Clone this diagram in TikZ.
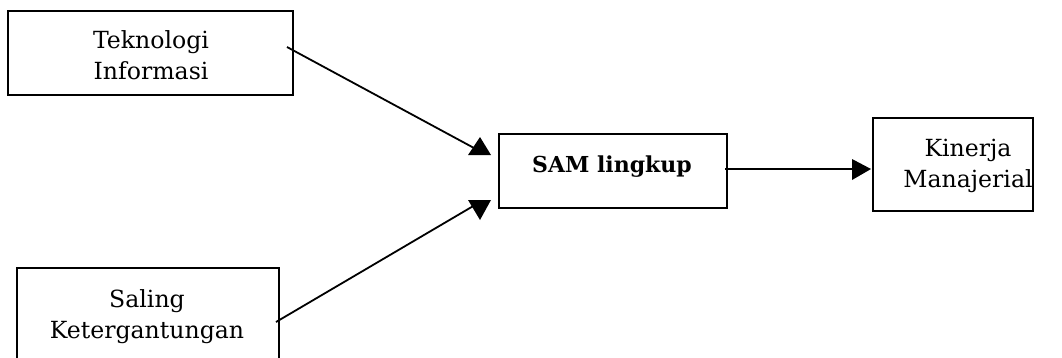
\documentclass[tikz,border=0pt]{standalone}
\usepackage{fontspec}
\setmainfont{DejaVu Serif}
\begin{document}
\begin{tikzpicture}[x=1pt,y=-1pt,
  box/.style={draw=black,line width=2pt,inner sep=0pt,minimum width=#1},
  lbl/.style={align=center,inner sep=0pt,anchor=base,font=\fontsize{23.6}{31}\selectfont},
  conn/.style={line width=1.8pt},
  tipfill/.style={fill=black}]
\useasboundingbox (0,0) rectangle (1062,357);
\clip (0,0) rectangle (1062,357);
% boxes
\node[box=285pt,minimum height=84pt] (tek) at (150.5,53) {};
\node[box=262pt,minimum height=92pt] (sal) at (148,314) {};
\node[box=228pt,minimum height=74pt] (sam) at (613,171) {};
\node[box=160pt,minimum height=93pt] (kin) at (953,164.5) {};
% labels (base anchor = baseline of last line)
\node[lbl] (tekT) at (151,79) {Teknologi\\Informasi};
\node[lbl] (salT) at (147,338) {Saling\\Ketergantungan};
\node[lbl,font=\fontsize{22}{30}\selectfont\bfseries] (samT) at (612,172) {SAM lingkup};
\node[lbl] (kinT) at (968,187) {Kinerja\\Manajerial};
% connector ends
\coordinate (c1s) at (287,47);
\coordinate (c1e) at (474,148);
\coordinate (c2s) at (276,322);
\coordinate (c2e) at (475,205);
\coordinate (c3s) at (725,169);
\coordinate (c3e) at (853,169);
\draw[conn] (c1s) -- (c1e);
\draw[conn] (c2s) -- (c2e);
\draw[conn] (c3s) -- (c3e);
% arrowheads
\fill[tipfill] (480,137) -- (491,155) -- (468,155) -- cycle;
\fill[tipfill] (468,200) -- (491,200) -- (480,220) -- cycle;
\fill[tipfill] (852,159) -- (871,169) -- (852,180) -- cycle;
\end{tikzpicture}
\end{document}
